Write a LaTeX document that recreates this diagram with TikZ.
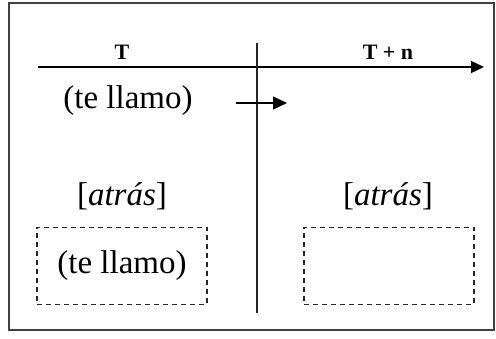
\documentclass[tikz,border=0pt]{standalone}
\usepackage{fontspec}
\setmainfont{Liberation Serif}
\usetikzlibrary{arrows.meta}
\begin{document}
\begin{tikzpicture}[x=1pt,y=-1pt,
  lbl/.style={inner sep=0pt,font=\fontsize{33}{36}\selectfont},
  hdr/.style={inner sep=0pt,font=\bfseries\fontsize{22}{24}\selectfont},
  slot/.style={draw=black!85,dashed,dash pattern=on 5pt off 4pt,line width=1.1pt,minimum width=170pt,minimum height=77pt,inner sep=0pt},
  axis/.style={line width=1.4pt,-{Triangle[length=13pt,width=12pt]}}]
  \useasboundingbox (0,0) rectangle (496,339);
  % outer frame
  \draw[black!75,line width=1.2pt] (9,3) rectangle (494,330);
  % time axis and division
  \coordinate (ax0) at (38,67);
  \coordinate (ax1) at (484,67);
  \coordinate (v0) at (257,43);
  \coordinate (v1) at (257,313);
  \draw[axis] (ax0) -- (ax1);
  \draw[black!85,line width=1.2pt] (v0) -- (v1);
  % headers
  \node[hdr] (t) at (122,52) {T};
  \node[hdr] (tn) at (388,52) {T + n};
  % first row
  \node[lbl] (call) at (128,101) {(te llamo)};
  \coordinate (s0) at (236,103);
  \coordinate (s1) at (287,103);
  \draw[line width=1.2pt,-{Triangle[length=14pt,width=13pt]}] (s0) -- (s1);
  % adverbs
  \node[lbl] (advL) at (122,196) {[\textit{atrás}]};
  \node[lbl] (advR) at (388,196) {[\textit{atrás}]};
  % dashed slots
  \node[slot] (boxL) at (122,266) {};
  \node[slot] (boxR) at (389,266) {};
  \node[lbl] at (boxL.center) {(te llamo)};
\end{tikzpicture}
\end{document}
